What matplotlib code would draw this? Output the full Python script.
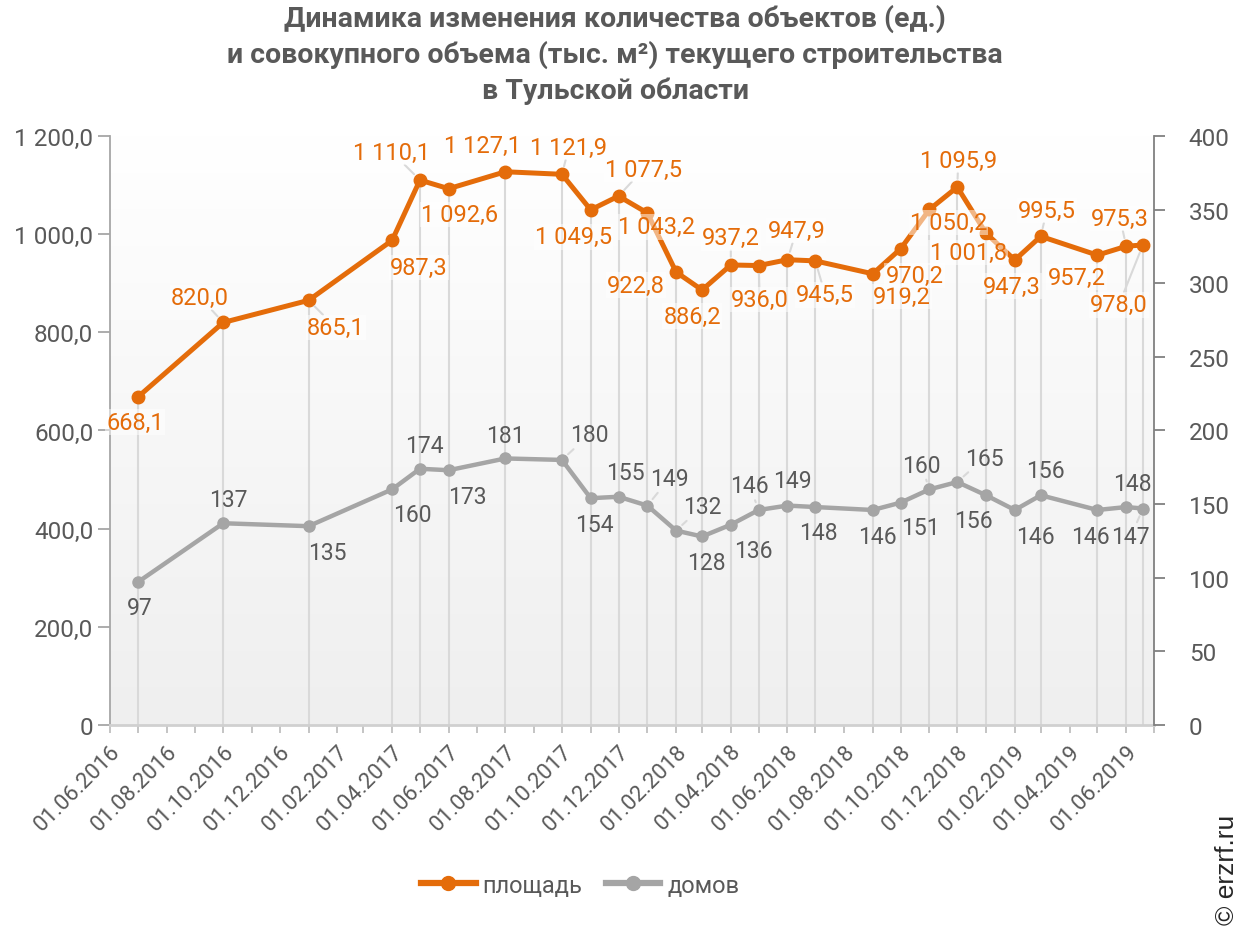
import numpy as np
import pandas as pd
import matplotlib
matplotlib.use("Agg")
import matplotlib.pyplot as plt
import matplotlib.dates as mdates
from matplotlib.colors import LinearSegmentedColormap
from matplotlib.lines import Line2D
from matplotlib.ticker import FuncFormatter, MultipleLocator

# данные
dates = pd.to_datetime([
    "01.07.2016", "01.10.2016", "01.01.2017", "01.04.2017", "01.05.2017",
    "01.06.2017", "01.08.2017", "01.10.2017", "01.11.2017", "01.12.2017",
    "01.01.2018", "01.02.2018", "01.03.2018", "01.04.2018", "01.05.2018",
    "01.06.2018", "01.07.2018", "01.09.2018", "01.10.2018", "01.11.2018",
    "01.12.2018", "01.01.2019", "01.02.2019", "01.03.2019", "01.05.2019",
    "01.06.2019", "19.06.2019",
], format="%d.%m.%Y")

area = [668.1, 820.0, 865.1, 987.3, 1110.1, 1092.6, 1127.1, 1121.9, 1049.5,
        1077.5, 1043.2, 922.8, 886.2, 937.2, 936.0, 947.9, 945.5, 919.2,
        970.2, 1050.2, 1095.9, 1001.8, 947.3, 995.5, 957.2, 975.3, 978.0]

houses = [97, 137, 135, 160, 174, 173, 181, 180, 154, 155, 149, 132, 128,
          136, 146, 149, 148, 146, 151, 160, 165, 156, 146, 156, 146, 148, 147]

# смещения подписей (пиксели), и где нужны выноски
area_offsets = [(-3, -25), (-23, 25), (27, -27), (27, -27), (-28, 28),
                (11, -26), (-23, 26), (7, 27), (-17, -27), (25, 27),
                (9, -14), (-40, -13), (-10, -26), (0, 27), (1, -34),
                (9, 29), (10, -34), (29, -23), (14, -27), (19, -13),
                (1, 27), (-18, -19), (-3, -26), (6, 26), (-21, -22),
                (-6, 28), (-24, -60)]
area_leaders = [0, 1, 1, 0, 1, 0, 0, 1, 0, 1, 0, 0, 0, 1, 1, 1, 1, 0, 0, 0,
                1, 0, 0, 1, 0, 1, 1]

house_offsets = [(2, -25), (5, 24), (19, -26), (20, -25), (4, 23),
                 (19, -26), (0, 23), (27, 25), (4, -26), (7, 24),
                 (22, 27), (26, 24), (4, -26), (22, -26), (-9, 24),
                 (5, 25), (3, -25), (5, -27), (20, -25), (-8, 24),
                 (27, 24), (-13, -25), (21, -27), (5, 25), (-7, -27),
                 (6, 24), (-12, -28)]
house_leaders = [0, 0, 0, 0, 0, 0, 0, 1, 0, 0, 1, 1, 0, 0, 1, 0, 0, 0, 0, 1,
                 1, 0, 0, 0, 0, 0, 1]

ORANGE = "#E46C0A"
GREY = "#A5A5A5"
TEXT = "#595959"

plt.rcParams["font.family"] = ["Roboto", "DejaVu Sans"]

fig = plt.figure(figsize=(12.43, 9.28), dpi=100)
rect = [0.0885, 0.2177, 0.8399, 0.6347]

# фон с градиентом
bg = fig.add_axes(rect, zorder=-1)
grad = np.linspace(0, 1, 256).reshape(-1, 1)
cmap = LinearSegmentedColormap.from_list("bg", ["#EFEFEF", "#FFFFFF"])
bg.imshow(grad, cmap=cmap, aspect="auto", origin="lower", extent=[0, 1, 0, 1])
bg.axis("off")

ax = fig.add_axes(rect)
ax.patch.set_visible(False)

x0 = pd.Timestamp("2016-06-01")
x1 = pd.Timestamp("2019-07-01")

ax.vlines(dates, 0, area, color="#D9D9D9", lw=1.5, zorder=1)
ax.plot(dates, area, color=ORANGE, lw=3.6, marker="o", ms=9, zorder=4,
        solid_joinstyle="round")

ax.set_xlim(x0, x1)
ax.set_ylim(0, 1200)
ax.yaxis.set_major_locator(MultipleLocator(200))


def fmt_left(v, pos):
    if v == 0:
        return "0"
    return f"{v:,.1f}".replace(",", " ").replace(".", ",")


ax.yaxis.set_major_formatter(FuncFormatter(fmt_left))
ax.xaxis.set_major_locator(mdates.MonthLocator(bymonth=[2, 4, 6, 8, 10, 12]))
ax.xaxis.set_minor_locator(mdates.MonthLocator())
ax.xaxis.set_major_formatter(mdates.DateFormatter("%d.%m.%Y"))

for lab in ax.get_xticklabels():
    lab.set_rotation(45)
    lab.set_ha("right")
    lab.set_rotation_mode("anchor")

ax.tick_params(axis="x", which="both", length=6, color="#BFBFBF", width=1.3,
               labelsize=16, labelcolor=TEXT, pad=5)
ax.tick_params(axis="y", length=9, color="#A6A6A6", width=1.3,
               labelsize=17.5, labelcolor=TEXT, pad=3)

for s in ["top", "right"]:
    ax.spines[s].set_visible(False)
ax.spines["left"].set_color("#A6A6A6")
ax.spines["left"].set_linewidth(1.3)
ax.spines["bottom"].set_color("#D0D0D0")
ax.spines["bottom"].set_linewidth(2)

ax2 = ax.twinx()
ax2.plot(dates, houses, color=GREY, lw=3.2, marker="o", ms=8, zorder=4,
         solid_joinstyle="round")
ax2.set_ylim(0, 400)
ax2.yaxis.set_major_locator(MultipleLocator(50))
ax2.tick_params(axis="y", length=8, color="#808080", width=1.3,
                labelsize=17.5, labelcolor=TEXT, pad=17)
for s in ["top", "left", "bottom"]:
    ax2.spines[s].set_visible(False)
ax2.spines["right"].set_color("#808080")
ax2.spines["right"].set_linewidth(1.3)


def fmt_val(v):
    return f"{v:,.1f}".replace(",", " ").replace(".", ",")


label_box = dict(boxstyle="square,pad=0.05", fc="white", ec="none", alpha=0.5)

for d, v, (dx, dy), lead in zip(dates, area, area_offsets, area_leaders):
    arrow = dict(arrowstyle="-", color="#D9D9D9", lw=1.5, shrinkA=0, shrinkB=6) if lead else None
    ax.annotate(fmt_val(v), (d, v), xytext=(dx, dy), textcoords="offset pixels",
                ha="center", va="center", fontsize=17, color=ORANGE,
                bbox=label_box, arrowprops=arrow, zorder=6)

for d, v, (dx, dy), lead in zip(dates, houses, house_offsets, house_leaders):
    arrow = dict(arrowstyle="-", color="#D9D9D9", lw=1.5, shrinkA=0, shrinkB=6) if lead else None
    ax2.annotate(str(v), (d, v), xytext=(dx, dy), textcoords="offset pixels",
                 ha="center", va="center", fontsize=16.5, color=TEXT,
                 arrowprops=arrow, zorder=6)

fig.text(0.495, 0.995,
         "Динамика изменения количества объектов (ед.)\n"
         "и совокупного объема (тыс. м²) текущего строительства\n"
         "в Тульской области",
         ha="center", va="top", fontsize=20.5, fontweight="bold", color=TEXT,
         linespacing=1.38)

handles = [
    Line2D([], [], color=ORANGE, lw=4.5, marker="o", ms=10),
    Line2D([], [], color=GREY, lw=4.5, marker="o", ms=10),
]
fig.legend(handles, ["площадь", "домов"], loc="center", bbox_to_anchor=(0.467, 0.045),
           ncol=2, frameon=False, fontsize=17, handlelength=2.3,
           columnspacing=1.0, labelcolor=TEXT, handletextpad=0.3)

fig.text(0.987, 0.003, "© erzrf.ru", rotation=90, ha="center", va="bottom",
         fontsize=19, color="#262626", family=["Liberation Sans", "DejaVu Sans"])

fig.savefig("out.png", dpi=100)
